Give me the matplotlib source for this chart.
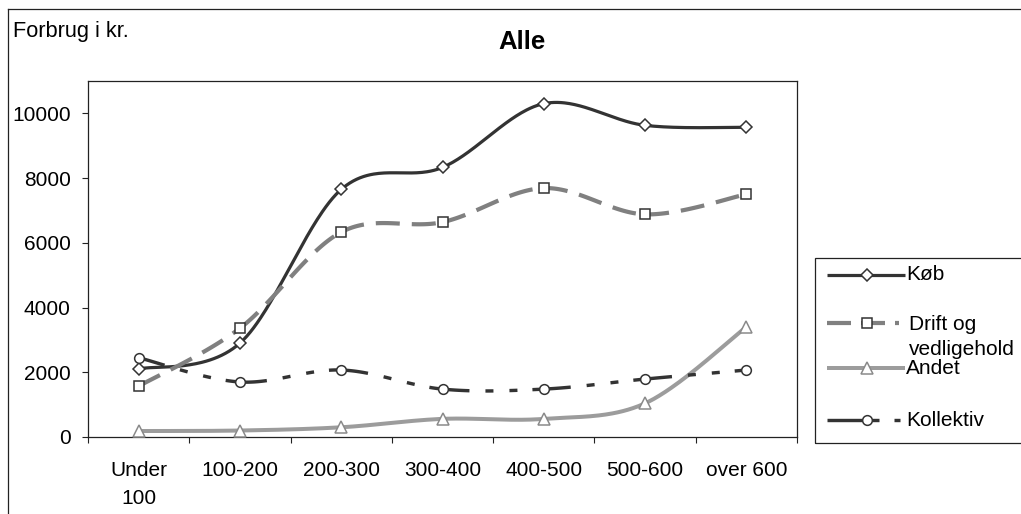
import numpy as np
import matplotlib
matplotlib.use('Agg')
import matplotlib.pyplot as plt
from matplotlib.lines import Line2D
from matplotlib.patches import Rectangle

# ---------------- data ----------------
categories = ["Under\n100", "100-200", "200-300", "300-400", "400-500", "500-600", "over 600"]
koeb = [2100, 2900, 7650, 8330, 10300, 9630, 9570]
drift = [1570, 3360, 6330, 6640, 7690, 6880, 7500]
andet = [185, 200, 300, 560, 560, 1040, 3400]
kollektiv = [2450, 1700, 2070, 1480, 1480, 1790, 2070]
series_names = ["Køb", "Drift og\nvedligehold", "Andet", "Kollektiv"]
y_ticks = [0, 2000, 4000, 6000, 8000, 10000]
title = "Alle"
y_title = "Forbrug i kr."

# ---------------- layout helpers ----------------
W, H = 1021, 514
DPI = 100
PT = 72.0 / DPI  # points per pixel

plt.rcParams['font.family'] = ['Liberation Sans', 'DejaVu Sans']

fig = plt.figure(figsize=(W / DPI, H / DPI), dpi=DPI)


def fx(px):
    return px / W


def fy(py):
    return 1 - py / H


ax = fig.add_axes([fx(88), fy(437), fx(797) - fx(88), fy(81) - fy(437)])


def smooth_segments(xs, ys, n=60):
    """Excel-like smoothed line: Catmull-Rom Bezier segments."""
    P = np.column_stack([xs, ys]).astype(float)
    m = len(P)
    segs = []
    t = np.linspace(0, 1, n)[:, None]
    for i in range(m - 1):
        p0 = P[max(i - 1, 0)]
        p1 = P[i]
        p2 = P[i + 1]
        p3 = P[min(i + 2, m - 1)]
        c1 = p1 + (p2 - p0) / 6.0
        c2 = p2 - (p3 - p1) / 6.0
        B = ((1 - t) ** 3) * p1 + 3 * ((1 - t) ** 2) * t * c1 + 3 * (1 - t) * t ** 2 * c2 + t ** 3 * p2
        segs.append(B)
    return segs


def dash_units(px_list, lw_pt):
    return [p * PT / lw_pt for p in px_list]


x = np.arange(len(categories))

dark = '#333333'
styles = [
    dict(data=koeb, color=dark, lw=3.2 * PT, dash=None, marker='D', ms=6.3,
         mec=dark),
    dict(data=drift, color='#808080', lw=4.2 * PT, dash=[24, 12], marker='s', ms=7.2,
         mec=dark),
    dict(data=andet, color='#9c9c9c', lw=4.0 * PT, dash=None, marker='^', ms=8.5,
         mec='#8a8a8a'),
    dict(data=kollektiv, color=dark, lw=3.4 * PT, dash=[27, 16, 8, 16, 8, 15], marker='o', ms=7.0,
         mec=dark),
]

for k, st in enumerate(styles):
    segs = smooth_segments(x, st['data'])
    if st['dash'] is None:
        pts = np.vstack(segs)
        ax.plot(pts[:, 0], pts[:, 1], color=st['color'], lw=st['lw'],
                solid_capstyle='butt', solid_joinstyle='round', zorder=2 + k)
    else:
        for s in segs:
            ax.plot(s[:, 0], s[:, 1], color=st['color'], lw=st['lw'],
                    dashes=dash_units(st['dash'], st['lw']), dash_capstyle='butt',
                    zorder=2 + k)
    ax.plot(x, st['data'], ls='none', marker=st['marker'], ms=st['ms'], mfc='white',
            mec=st['mec'], mew=1.1, zorder=10 + k)

# ---------------- axes ----------------
ax.set_xlim(-0.5, len(categories) - 0.5)
ax.set_ylim(0, 11000)
ax.set_xticks(np.arange(-0.5, len(categories), 1.0))
ax.set_xticklabels([])
ax.set_xticks(x, minor=True)
ax.set_xticklabels(categories, minor=True, fontsize=15, linespacing=1.65)
ax.tick_params(axis='x', which='major', direction='out', length=4.5, width=0.8,
               color='#222222')
ax.tick_params(axis='x', which='minor', length=0, pad=17)
ax.set_yticks(y_ticks)
ax.set_yticklabels([str(v) for v in y_ticks], fontsize=15)
ax.tick_params(axis='y', direction='out', length=4.0, width=0.8, pad=8.5,
               color='#222222')
for sp in ax.spines.values():
    sp.set_color('#222222')
    sp.set_linewidth(0.9)

# ---------------- texts ----------------
fig.text(fx(522), fy(42), title, ha='center', va='center', fontsize=18.5,
         fontweight='bold')
fig.text(fx(12.5), fy(31), y_title, ha='left', va='center', fontsize=15.7)

# outer chart frame (only top and left visible)
fig.add_artist(Line2D([fx(8), fx(8)], [fy(9), 0], transform=fig.transFigure,
                      color='#222222', lw=0.9))
fig.add_artist(Line2D([fx(8), 1], [fy(9), fy(9)], transform=fig.transFigure,
                      color='#222222', lw=0.9))

# ---------------- legend (manual, Excel-like) ----------------
fig.add_artist(Rectangle((fx(815), fy(443)), 1.02 - fx(815), fy(258) - fy(443),
                         transform=fig.transFigure, fill=False, ec='#222222',
                         lw=0.9, clip_on=False))

leg_rows = [275, 323, 368, 420]
leg_text_y = [275, 337, 368, 420]
leg_text_x = [906, 909, 906, 906]
leg_end = [905, 899, 905, 900]
leg_dash = [None, [24, 10], None, [52, 15, 8, 30]]
for k, st in enumerate(styles):
    yy = fy(leg_rows[k])
    kw = dict(color=st['color'], lw=st['lw'], transform=fig.transFigure)
    if leg_dash[k] is None:
        ln = Line2D([fx(827), fx(leg_end[k])], [yy, yy], solid_capstyle='butt', **kw)
    else:
        ln = Line2D([fx(827), fx(leg_end[k])], [yy, yy],
                    dashes=dash_units(leg_dash[k], st['lw']), dash_capstyle='butt', **kw)
    fig.add_artist(ln)
    fig.add_artist(Line2D([fx(867)], [yy], ls='none', marker=st['marker'], ms=st['ms'],
                          mfc='white', mec=st['mec'], mew=1.1,
                          transform=fig.transFigure))
    fig.text(fx(leg_text_x[k]), fy(leg_text_y[k]), series_names[k], ha='left',
             va='center', fontsize=15, linespacing=1.45)

fig.savefig('out.png', dpi=DPI)
